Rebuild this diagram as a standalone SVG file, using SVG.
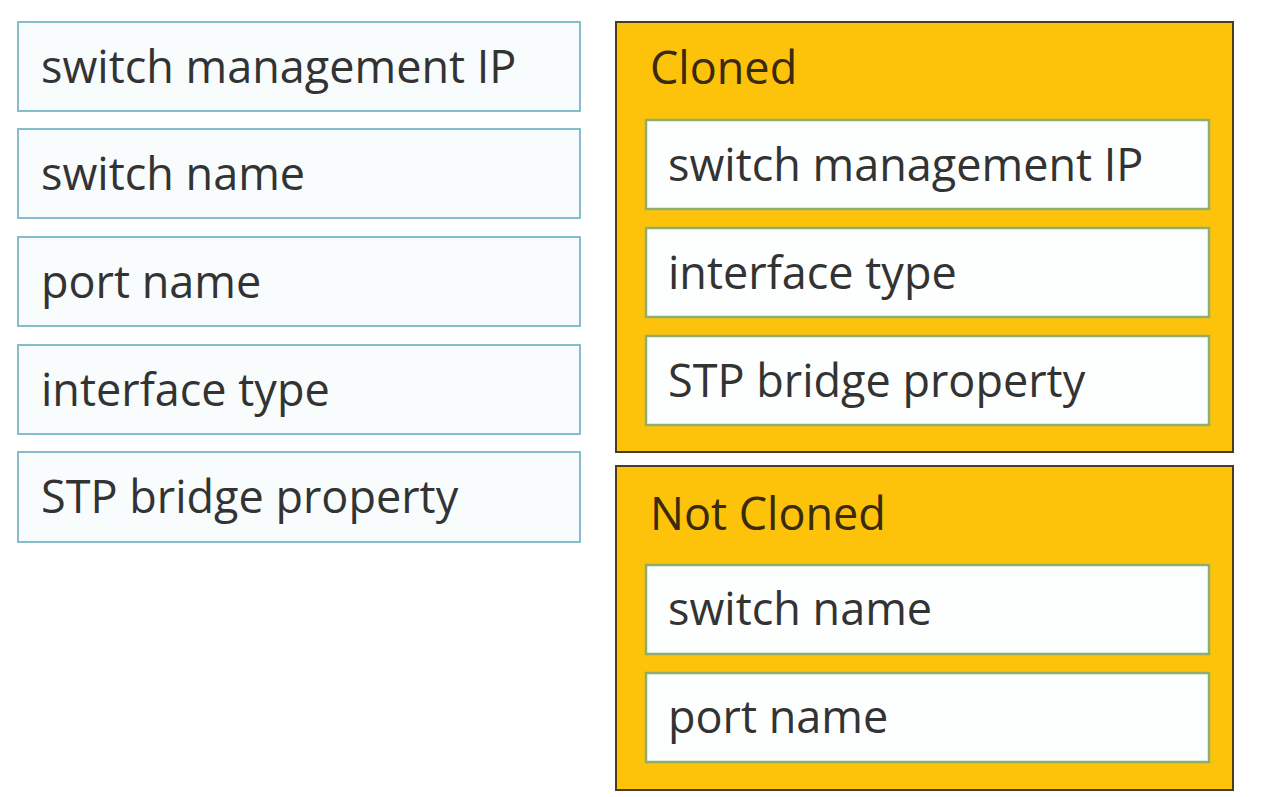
<svg xmlns="http://www.w3.org/2000/svg" width="1268" height="797" viewBox="0 0 1268 797">
<style>
.src{fill:#f8fcfd;stroke:#86bccb;stroke-width:2}
.grp{fill:#fcc30a;stroke:#4a3c22;stroke-width:2}
.itm{fill:#fdfefe;stroke:#8fae6e;stroke-width:2.5}
.t{font-family:"Open Sans","Noto Sans","DejaVu Sans",sans-serif;font-size:45px;fill:#333333}
.h{font-family:"Open Sans","Noto Sans","DejaVu Sans",sans-serif;font-size:45px;fill:#3a2a10}
</style>
<rect width="1268" height="797" fill="#ffffff"/>
<g id="src-switch-management-ip"><rect class="src" x="18" y="22" width="562" height="89"/><text class="t" x="41" y="83">switch management IP</text></g>
<g id="src-switch-name"><rect class="src" x="18" y="129" width="562" height="89"/><text class="t" x="41" y="190">switch name</text></g>
<g id="src-port-name"><rect class="src" x="18" y="237" width="562" height="89"/><text class="t" x="41" y="298">port name</text></g>
<g id="src-interface-type"><rect class="src" x="18" y="345" width="562" height="89"/><text class="t" x="41" y="406">interface type</text></g>
<g id="src-stp"><rect class="src" x="18" y="452" width="562" height="90"/><text class="t" x="41" y="513">STP bridge property</text></g>
<g id="cloned"><rect class="grp" x="616" y="22" width="617" height="430"/><text class="h" x="650" y="84">Cloned</text>
<g id="cloned-ip"><rect class="itm" x="646" y="120" width="563" height="89"/><text class="t" x="668" y="181">switch management IP</text></g>
<g id="cloned-if"><rect class="itm" x="646" y="228" width="563" height="89"/><text class="t" x="668" y="289">interface type</text></g>
<g id="cloned-stp"><rect class="itm" x="646" y="336" width="563" height="89"/><text class="t" x="668" y="397">STP bridge property</text></g>
</g>
<g id="not-cloned"><rect class="grp" x="616" y="466" width="617" height="324"/><text class="h" x="650" y="530">Not Cloned</text>
<g id="nc-switch-name"><rect class="itm" x="646" y="565" width="563" height="89"/><text class="t" x="668" y="625">switch name</text></g>
<g id="nc-port-name"><rect class="itm" x="646" y="673" width="563" height="89"/><text class="t" x="668" y="733">port name</text></g>
</g>
<g id="connectors"/>
</svg>
